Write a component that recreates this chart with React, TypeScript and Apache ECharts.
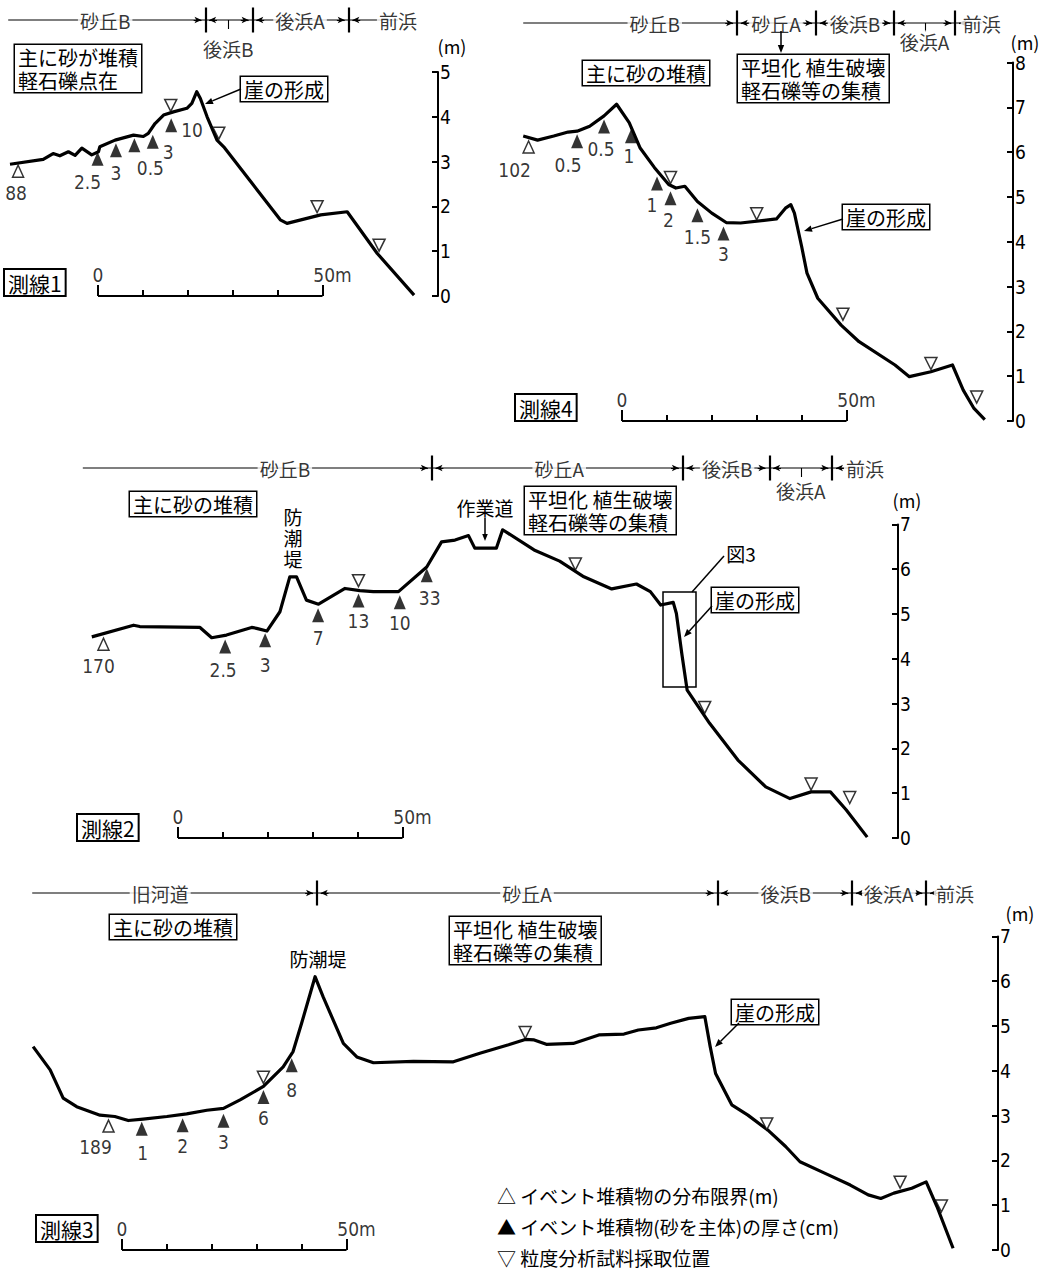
import React, { useEffect, useRef } from "react";
import * as echarts from "echarts";

const JP = '"Noto Sans CJK JP", "Noto Sans", sans-serif';
const NUM = '"Liberation Sans Narrow", "DejaVu Sans Condensed", "Noto Sans CJK JP", sans-serif';

// ================= DATA (distance in m from scale-bar origin, elevation in m) =================
// 測線1
const line1Profile = [[-19.6,2.94],[-12.2,3.05],[-10.0,3.18],[-8.5,3.13],[-6.6,3.22],[-5.1,3.14],[-3.6,3.30],[-1.4,3.15],[0.1,3.22],[0.4,3.33],[3.8,3.48],[7.9,3.59],[10.1,3.56],[11.2,3.63],[12.7,3.85],[14.6,4.04],[16.8,4.11],[19.8,4.19],[20.9,4.30],[22.0,4.56],[22.8,4.41],[24.3,4.00],[26.5,3.48],[28.0,3.33],[40.6,1.70],[42.1,1.62],[49.6,1.81],[55.5,1.88],[62.2,0.95],[70.4,0.02]];
const line1Limit = [[-17.8, 2.92, "88"]];
const line1Thick = [[-0.1,3.22,"2.5"],[4.0,3.41,"3"],[8.1,3.52,"0.5"],[12.2,3.60,"3"],[16.3,3.97,"10"]];
const line1Sample = [[16.2,4.12],[26.9,3.50],[48.8,1.86],[62.6,1.00]];
const line1ZoneStart = -20.0;
const line1ZoneBounds = [23.9, 34.4, 55.8];
const line1ZoneNames = ["砂丘B", "後浜B", "後浜A", "前浜"];
const line1ZoneCentres = [1.6, 29.0, 45.0, 66.8];

// 測線4
const line4Profile = [[-22.0,6.36],[-18.8,6.27],[-15.2,6.36],[-12.0,6.45],[-10.0,6.47],[-7.2,6.58],[-4.0,6.81],[-1.2,7.07],[1.6,6.66],[4.0,6.10],[7.2,5.66],[10.4,5.28],[12.0,5.20],[14.0,5.24],[16.8,4.90],[20.0,4.64],[23.2,4.43],[26.4,4.42],[34.4,4.51],[36.4,4.75],[37.6,4.83],[38.4,4.64],[40.0,3.90],[41.2,3.30],[43.6,2.74],[48.8,2.14],[52.8,1.77],[60.8,1.25],[64.0,0.99],[68.8,1.10],[73.6,1.25],[76.0,0.69],[78.4,0.28],[80.8,0.03]];
const line4Limit = [[-20.8, 6.25, "102"]];
const line4Thick = [[-10.0,6.40,"0.5"],[-4.0,6.73,"0.5"],[2.0,6.51,"1"],[7.8,5.46,"1"],[10.8,5.13,"2"],[16.8,4.75,"1.5"],[22.6,4.34,"3"]];
const line4Sample = [[10.8,5.30],[30.0,4.49],[49.2,2.25],[68.8,1.15],[79.0,0.40]];
const line4ZoneStart = -22.0;
const line4ZoneBounds = [25.6, 43.2, 60.6, 74.2];
const line4ZoneNames = ["砂丘B", "砂丘A", "後浜B", "後浜A", "前浜"];
const line4ZoneCentres = [7.3, 34.3, 51.9, 67.4, 80.1];

// 測線2
const line2Profile = [[-19.2,4.49],[-9.9,4.75],[-8.5,4.72],[4.9,4.70],[7.5,4.47],[10.8,4.53],[16.4,4.70],[17.5,4.68],[19.8,4.62],[22.7,5.05],[24.9,5.83],[26.4,5.83],[28.6,5.31],[31.3,5.22],[37.2,5.57],[40.5,5.52],[43.5,5.50],[49.1,5.50],[55.4,6.05],[58.7,6.61],[61.7,6.65],[64.7,6.75],[66.1,6.47],[70.9,6.47],[72.3,6.88],[79.3,6.43],[85.0,6.18],[90.4,5.83],[96.6,5.56],[102.1,5.67],[105.2,5.50],[107.5,5.20],[110.3,5.26],[111.0,5.01],[112.2,4.12],[113.4,3.30],[118.4,2.56],[124.7,1.74],[130.9,1.14],[136.3,0.88],[141.0,1.03],[145.3,1.03],[148.8,0.63],[153.5,0.02]];
const line2Limit = [[-16.6, 4.46, "170"]];
const line2Thick = [[10.5,4.43,"2.5"],[19.4,4.57,"3"],[31.2,5.13,"7"],[40.2,5.46,"13"],[49.4,5.42,"10"],[55.4,6.02,"33"]];
const line2Sample = [[40.2,5.61],[88.5,5.98],[117.3,2.78],[141.0,1.07],[149.6,0.77]];
const line2ZoneStart = -21.2;
const line2ZoneBounds = [56.5, 112.4, 131.7, 145.7];
const line2ZoneNames = ["砂丘B", "砂丘A", "後浜B", "後浜A", "前浜"];
const line2ZoneCentres = [23.8, 84.9, 122.3, 138.7, 153.0];

// 測線3
const line3Profile = [[-19.8,4.54],[-16.0,4.02],[-13.1,3.39],[-10.1,3.20],[-4.9,3.01],[-1.6,2.98],[1.4,2.89],[4.7,2.92],[10.0,2.98],[14.4,3.04],[18.9,3.12],[22.6,3.16],[26.3,3.35],[31.5,3.65],[35.9,4.09],[38.1,4.43],[40.0,5.06],[43.0,6.10],[44.8,5.65],[49.3,4.61],[52.3,4.31],[56.0,4.18],[64.9,4.21],[73.8,4.20],[79.7,4.39],[86.1,4.58],[89.8,4.70],[91.8,4.69],[94.5,4.59],[100.5,4.61],[106.2,4.80],[111.8,4.82],[115.0,4.91],[119.0,4.96],[122.2,5.06],[126.2,5.17],[129.8,5.21],[131.0,4.54],[132.2,3.94],[135.8,3.24],[139.4,3.01],[143.8,2.68],[147.8,2.31],[151.0,1.97],[156.6,1.71],[162.2,1.45],[166.2,1.23],[169.0,1.15],[171.9,1.27],[175.9,1.38],[179.1,1.52],[181.5,0.97],[185.1,0.04]];
const line3Limit = [[-3.0, 2.90, "189"]];
const line3Thick = [[4.4,2.86,"1"],[13.5,2.94,"2"],[22.6,3.04,"3"],[31.5,3.57,"6"],[37.8,4.28,"8"]];
const line3Sample = [[31.5,3.72],[89.8,4.72],[143.6,2.68],[173.3,1.38],[182.5,0.85]];
const line3ZoneStart = -20.0;
const line3ZoneBounds = [43.4, 132.6, 162.6, 179.1];
const line3ZoneNames = ["旧河道", "砂丘A", "後浜B", "後浜A", "前浜"];
const line3ZoneCentres = [8.5, 90.2, 147.8, 170.8, 185.5];

const yMaxes = [5, 8, 7, 7];
const scaleTicks = [0, 10, 20, 30, 40, 50];
const scaleLabels = ["0", "50m"];
const legendTexts = ["△ イベント堆積物の分布限界(m)", "▲ イベント堆積物(砂を主体)の厚さ(cm)", "▽ 粒度分析試料採取位置"];

// ================= LAYOUT (pixels) =================
const PXM_X = 4.49;
const PXM_Y = 44.8;
const LAYOUT = [
  { x0: 98, axisX: 438, y0: 296, left: 5, hdr: 20, below: 28, rows: [0, 1, 0, 0],
    limitLbl: [[-2, 5]], thickLbl: [["bottom", -10, 6], ["bottom", 0, 5], ["bottom", 16, 5], ["right", 0, 10], ["right", 0, 5]], leaders: [29.0] },
  { x0: 622, axisX: 1013, y0: 421, left: 505, hdr: 23, below: 18, rows: [0, 0, 0, 1, 0],
    limitLbl: [[-14, 6]], thickLbl: [["bottom", -9, 6], ["bottom", -3, 5], ["bottom", -2, 2], ["bottom", -5, 4], ["bottom", -2, 4], ["bottom", 0, 4], ["bottom", 0, 3]], leaders: [67.6] },
  { x0: 178, axisX: 898, y0: 838, left: 60, hdr: 468, below: 22, rows: [0, 0, 0, 1, 0],
    limitLbl: [[-5, 5]], thickLbl: [["bottom", -2, 6], ["bottom", 0, 7], ["bottom", 0, 5], ["bottom", 0, 3], ["bottom", 0, 3], ["bottom", 3, 5]], leaders: [138.7] },
  { x0: 122, axisX: 998, y0: 1250, left: 20, hdr: 893, below: 22, rows: [0, 0, 0, 0, 0],
    limitLbl: [[-13, 4]], thickLbl: [["bottom", 1, 7], ["bottom", 0, 3], ["bottom", 0, 4], ["bottom", 0, 3], ["bottom", 0, 7]], leaders: [] },
];

const PANELS = [
  { name: "測線1", profile: line1Profile, limit: line1Limit, thick: line1Thick, sample: line1Sample, zStart: line1ZoneStart, zBounds: line1ZoneBounds, zNames: line1ZoneNames, zCentres: line1ZoneCentres },
  { name: "測線4", profile: line4Profile, limit: line4Limit, thick: line4Thick, sample: line4Sample, zStart: line4ZoneStart, zBounds: line4ZoneBounds, zNames: line4ZoneNames, zCentres: line4ZoneCentres },
  { name: "測線2", profile: line2Profile, limit: line2Limit, thick: line2Thick, sample: line2Sample, zStart: line2ZoneStart, zBounds: line2ZoneBounds, zNames: line2ZoneNames, zCentres: line2ZoneCentres },
  { name: "測線3", profile: line3Profile, limit: line3Limit, thick: line3Thick, sample: line3Sample, zStart: line3ZoneStart, zBounds: line3ZoneBounds, zNames: line3ZoneNames, zCentres: line3ZoneCentres },
];

// ================= helpers =================
function box(x: number, y: number, text: string, fs = 20, bw = 1.5) {
  return {
    type: "text", x, y, z: 50,
    style: { text, fontSize: fs, fontFamily: JP, fill: "#000", backgroundColor: "#fff", borderColor: "#000", borderWidth: bw, padding: [1, 3, 0, 3], lineHeight: fs + 3, align: "left", verticalAlign: "top" },
  };
}
function label(x: number, y: number, text: string, fs = 19, align = "center", lh?: number) {
  return { type: "text", x, y, z: 50, style: { text, fontSize: fs, fontFamily: JP, fill: "#000", align, verticalAlign: "middle", lineHeight: lh || fs + 2 } };
}
function arrow(x1: number, y1: number, x2: number, y2: number, head = 8) {
  const a = Math.atan2(y2 - y1, x2 - x1);
  const hx = x2 - head * Math.cos(a);
  const hy = y2 - head * Math.sin(a);
  const w = head * 0.4;
  return [
    { type: "line", z: 50, shape: { x1, y1, x2: hx, y2: hy }, style: { stroke: "#000", lineWidth: 1.5 } },
    { type: "polygon", z: 50, shape: { points: [[x2, y2], [hx + w * Math.sin(a), hy - w * Math.cos(a)], [hx - w * Math.sin(a), hy + w * Math.cos(a)]] }, style: { fill: "#000" } },
  ];
}

function buildOption() {
  const grid: any[] = [];
  const xAxis: any[] = [];
  const yAxis: any[] = [];
  const series: any[] = [];

  PANELS.forEach((p, i) => {
    const L = LAYOUT[i];
    const ymax = yMaxes[i];
    const top = L.y0 - ymax * PXM_Y;
    const xmin = (L.left - L.x0) / PXM_X;
    const xmax = (L.axisX - L.x0) / PXM_X;
    const gi = i * 2;
    const hi = i * 2 + 1;
    grid.push({ left: L.left, top, width: L.axisX - L.left, height: L.y0 - top, containLabel: false });
    grid.push({ left: L.left, top: L.hdr - 16, width: L.axisX - L.left, height: 61, containLabel: false });
    xAxis.push({ gridIndex: gi, type: "value", min: xmin, max: xmax, show: false, axisLine: { onZero: false } });
    xAxis.push({ gridIndex: hi, type: "value", min: xmin, max: xmax, show: false, axisLine: { onZero: false } });
    yAxis.push({
      gridIndex: gi, type: "value", position: "right", min: 0, max: ymax, interval: 1,
      axisLine: { show: true, onZero: false, lineStyle: { color: "#000", width: 2 } },
      axisTick: { show: true, inside: true, length: 6, lineStyle: { color: "#000", width: 2 } },
      axisLabel: { color: "#000", fontSize: 19, fontFamily: NUM, margin: 2 },
      splitLine: { show: false },
    });
    yAxis.push({ gridIndex: hi, type: "value", min: -45, max: 16, show: false, axisLine: { onZero: false } });

    // profile
    series.push({
      type: "line", xAxisIndex: gi, yAxisIndex: gi, data: p.profile, symbol: "none", silent: true, z: 3,
      lineStyle: { color: "#000", width: 3.2, join: "round" },
    });

    // scale bar
    const endTick = 11 / PXM_Y;
    const midTick = 6 / PXM_Y;
    series.push({
      type: "line", xAxisIndex: gi, yAxisIndex: gi, data: [[scaleTicks[0], 0], [scaleTicks[scaleTicks.length - 1], 0]],
      symbol: "none", silent: true, z: 2, lineStyle: { color: "#000", width: 2 },
      markLine: {
        silent: true, symbol: "none", label: { show: false }, animation: false,
        lineStyle: { color: "#000", width: 2, type: "solid" },
        data: scaleTicks.map((t, k) => [
          { coord: [t, 0] },
          { coord: [t, k === 0 || k === scaleTicks.length - 1 ? endTick : midTick] },
        ]),
      },
    });
    series.push({
      type: "scatter", xAxisIndex: gi, yAxisIndex: gi, symbolSize: 1, silent: true, z: 6,
      itemStyle: { color: "rgba(0,0,0,0)" },
      label: { show: true, position: "top", distance: 11, color: "#000", fontSize: 19, fontFamily: NUM },
      data: [
        { value: [scaleTicks[0], 0], label: { formatter: scaleLabels[0] } },
        { value: [scaleTicks[scaleTicks.length - 1], 0], label: { formatter: scaleLabels[1], offset: [10, 0] } },
      ],
    });

    // △ distribution limit
    series.push({
      type: "scatter", xAxisIndex: gi, yAxisIndex: gi, silent: true, z: 5,
      symbol: "triangle", symbolSize: [11, 12], symbolOffset: [0, 6],
      itemStyle: { color: "#fff", borderColor: "#000", borderWidth: 1.5 },
      label: { show: true, position: "bottom", distance: 1, color: "#000", fontSize: 19, fontFamily: NUM },
      data: p.limit.map((d: any, k: number) => ({ value: [d[0], d[1]], label: { formatter: d[2], offset: L.limitLbl[k] } })),
    });
    // ▲ thickness
    series.push({
      type: "scatter", xAxisIndex: gi, yAxisIndex: gi, silent: true, z: 5,
      symbol: "triangle", symbolSize: [12, 14], symbolOffset: [0, 7],
      itemStyle: { color: "#000" },
      label: { show: true, position: "bottom", distance: 1, color: "#000", fontSize: 19, fontFamily: NUM },
      data: p.thick.map((d: any, k: number) => {
        const s = L.thickLbl[k];
        return { value: [d[0], d[1]], label: { formatter: d[2], position: s[0], distance: s[0] === "right" ? 4 : 1, offset: [s[1], s[2]] } };
      }),
    });
    // ▽ sample
    series.push({
      type: "scatter", xAxisIndex: gi, yAxisIndex: gi, silent: true, z: 5,
      symbol: "triangle", symbolRotate: 180, symbolSize: [12, 12], symbolOffset: [0, -6],
      itemStyle: { color: "#fff", borderColor: "#000", borderWidth: 1.5 },
      data: p.sample.map((d: any) => [d[0], d[1]]),
    });

    // header (zones)
    const zEnd = p.zCentres[p.zCentres.length - 1];
    const ml: any[] = [];
    p.zBounds.forEach((b: number) => {
      ml.push([{ coord: [b, -12.5], lineStyle: { width: 2.2, color: "#000" } }, { coord: [b, 12.5], lineStyle: { width: 2.2, color: "#000" } }]);
      ml.push([{ coord: [b - 2.6, 0] }, { coord: [b - 0.85, 0], symbol: "arrow", symbolSize: [5, 7] }]);
      ml.push([{ coord: [b + 2.6, 0] }, { coord: [b + 0.85, 0], symbol: "arrow", symbolSize: [5, 7] }]);
    });
    L.leaders.forEach((c: number) => {
      ml.push([{ coord: [c, 0] }, { coord: [c, -9] }]);
    });
    series.push({
      type: "line", xAxisIndex: hi, yAxisIndex: hi, data: [[p.zStart, 0], [zEnd, 0]], symbol: "none", silent: true, z: 2,
      lineStyle: { color: "#000", width: 1.1 },
      markLine: {
        silent: true, symbol: "none", label: { show: false }, animation: false,
        lineStyle: { color: "#000", width: 1.1, type: "solid" },
        data: ml,
      },
    });
    series.push({
      type: "scatter", xAxisIndex: hi, yAxisIndex: hi, symbolSize: 1, silent: true, z: 8,
      itemStyle: { color: "rgba(0,0,0,0)" },
      label: { show: true, position: "inside", color: "#000", fontSize: 19, fontFamily: JP, backgroundColor: "#fff", padding: [1, 2] },
      data: p.zNames.map((n: string, k: number) => ({ value: [p.zCentres[k], L.rows[k] ? -L.below : 0], label: { formatter: n } })),
    });
  });

  const graphic: any[] = [
    // 測線1
    box(15, 45, "主に砂が堆積\n軽石礫点在"),
    box(241, 77, "崖の形成"),
    ...arrow(241, 89, 205, 104),
    label(452, 46, "(m)", 18),
    box(5, 270, PANELS[0].name, 21, 2),
    // 測線4
    box(583, 61, "主に砂の堆積"),
    box(738, 55, "平坦化 植生破壊\n軽石礫等の集積"),
    ...arrow(781, 31, 781, 53),
    box(843, 205, "崖の形成"),
    ...arrow(843, 219, 804, 231),
    label(1025, 42, "(m)", 18),
    box(516, 395, PANELS[1].name, 21, 2),
    // 測線2
    box(130, 492, "主に砂の堆積"),
    label(293, 516, "防", 19),
    label(293, 537, "潮", 19),
    label(293, 558, "堤", 19),
    label(485, 507, "作業道"),
    ...arrow(485, 518, 485, 541, 7),
    box(525, 487, "平坦化 植生破壊\n軽石礫等の集積"),
    label(741, 553, "図3"),
    { type: "line", z: 50, shape: { x1: 724, y1: 556, x2: 692, y2: 592 }, style: { stroke: "#000", lineWidth: 1.5 } },
    { type: "rect", z: 50, shape: { x: 663, y: 592, width: 33, height: 95 }, style: { fill: "none", stroke: "#000", lineWidth: 1.5 } },
    box(712, 588, "崖の形成"),
    ...arrow(712, 606, 684, 637),
    label(907, 500, "(m)", 18),
    box(78, 815, PANELS[2].name, 21, 2),
    // 測線3
    box(110, 915, "主に砂の堆積"),
    box(450, 917, "平坦化 植生破壊\n軽石礫等の集積"),
    label(318, 958, "防潮堤"),
    box(732, 1000, "崖の形成"),
    ...arrow(739, 1023, 715, 1047),
    label(1020, 913, "(m)", 18),
    box(37, 1216, PANELS[3].name, 21, 2),
    label(497, 1195, legendTexts[0], 19, "left"),
    label(497, 1226, legendTexts[1], 19, "left"),
    label(497, 1257, legendTexts[2], 19, "left"),
  ];

  return { animation: false, backgroundColor: "#fff", grid, xAxis, yAxis, series, graphic };
}

export default function App() {
  const ref = useRef<HTMLDivElement>(null);
  useEffect(() => {
    if (!ref.current) return;
    const chart = echarts.init(ref.current, null, { renderer: "svg", width: 1049, height: 1269 });
    chart.setOption(buildOption() as any);
    return () => chart.dispose();
  }, []);
  return <div ref={ref} style={{ position: "absolute", left: 0, top: 0, width: 1049, height: 1269, background: "#fff" }} />;
}
